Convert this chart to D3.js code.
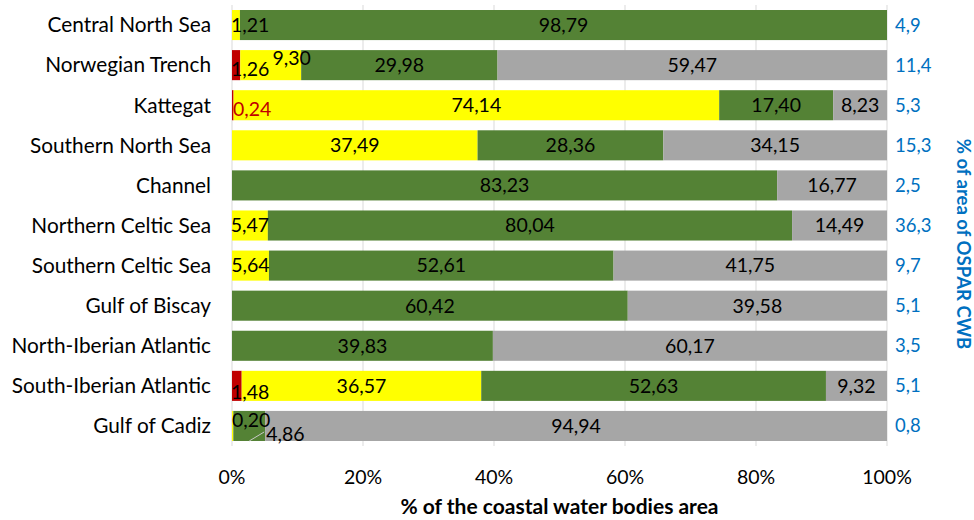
<!DOCTYPE html>
<html><head><meta charset="utf-8">
<script src="https://cdn.jsdelivr.net/npm/d3@7"></script>
<style>
body{margin:0;background:#fff;}
svg text{font-family:Lato,"Open Sans",sans-serif;}
</style></head>
<body>
<svg id="chart" width="974" height="520"></svg>
<script>
const categories = ["Central North Sea","Norwegian Trench","Kattegat","Southern North Sea","Channel","Northern Celtic Sea","Southern Celtic Sea","Gulf of Biscay","North-Iberian Atlantic","South-Iberian Atlantic","Gulf of Cadiz"];
const red    = [0, 1.26, 0.24, 0, 0, 0, 0, 0, 0, 1.48, 0];
const yellow = [1.21, 9.30, 74.14, 37.49, 0, 5.47, 5.64, 0, 0, 36.57, 0.20];
const green  = [98.79, 29.98, 17.40, 28.36, 83.23, 80.04, 52.61, 60.42, 39.83, 52.63, 4.86];
const grey   = [0, 59.47, 8.23, 34.15, 16.77, 14.49, 41.75, 39.58, 60.17, 9.32, 94.94];
const osparShare = ["4,9","11,4","5,3","15,3","2,5","36,3","9,7","5,1","3,5","5,1","0,8"];
const xTicks = [0, 20, 40, 60, 80, 100];
const seriesKeys = ["red","yellow","green","grey"];
const colors = {red:"#c00000", yellow:"#ffff00", green:"#548235", grey:"#a6a6a6"};

const rows = categories.map((c,i)=>({cat:c, red:red[i], yellow:yellow[i], green:green[i], grey:grey[i]}));

const svg = d3.select("#chart");
const m = {l:232, r:887, t:5, b:446};
const x = d3.scaleLinear().domain([0,100]).range([m.l, m.r]);
const y = d3.scaleBand().domain(categories).range([m.t, m.b]).paddingInner(0.25).paddingOuter(0.125);

// gridlines
svg.append("g").selectAll("line").data(xTicks).join("line")
  .attr("x1", d=>x(d)).attr("x2", d=>x(d)).attr("y1", m.t).attr("y2", m.b)
  .attr("stroke", "#d9d9d9").attr("stroke-width", 1);

const stack = d3.stack().keys(seriesKeys)(rows);

const g = svg.append("g");
stack.forEach(s=>{
  g.append("g").selectAll("rect").data(s).join("rect")
    .attr("x", d=>x(d[0])).attr("width", d=>Math.max(0, x(d[1])-x(d[0])))
    .attr("y", d=>y(d.data.cat)).attr("height", y.bandwidth())
    .attr("fill", colors[s.key]);
});

const fmt = v => d3.format(".2f")(v).replace(".", ",");
// label nudges (Excel overlap resolution)
const nudges = {
  "Central North Sea|yellow": {anchor:"start", atStart:true, dx:-1, dy:0},
  "Norwegian Trench|red": {anchor:"start", atStart:true, dx:-1, dy:4},
  "Norwegian Trench|yellow": {dx:21, dy:-7},
  "Kattegat|red": {anchor:"start", atStart:true, dx:1, dy:4, color:"#c00000"},
  "South-Iberian Atlantic|red": {anchor:"start", atStart:true, dx:-1, dy:6},
  "Gulf of Cadiz|yellow": {anchor:"start", atStart:true, dx:0, dy:-6},
  "Gulf of Cadiz|green": {anchor:"start", atEnd:true, dx:1, dy:8}
};

// leader line for Gulf of Cadiz
const gc = "Gulf of Cadiz";
svg.append("line")
  .attr("x1", x(yellow[10] + green[10]/2)).attr("y1", y(gc)+y.bandwidth())
  .attr("x2", x(yellow[10] + green[10]) - 1).attr("y2", y(gc)+y.bandwidth()-9)
  .attr("stroke", "#c9c9c9").attr("stroke-width", 1);

const lbl = svg.append("g").attr("font-size", 19.5).attr("fill", "#000");
stack.forEach(s=>{
  s.forEach(d=>{
    const v = d.data[s.key];
    if (!v) return;
    const key = d.data.cat + "|" + s.key;
    const n = nudges[key] || {};
    let px = n.atStart ? x(d[0]) : n.atEnd ? x(d[1]) : (x(d[0]) + x(d[1]))/2;
    px += n.dx || 0;
    const py = y(d.data.cat) + y.bandwidth()/2 + (n.dy || 0);
    lbl.append("text").attr("x", px).attr("y", py)
      .attr("dy", "0.35em").attr("text-anchor", n.anchor || "middle")
      .attr("fill", n.color || "#000").text(fmt(v));
  });
});

// left category axis
svg.append("g").selectAll("text").data(categories).join("text")
  .attr("x", 211).attr("y", d=>y(d)+y.bandwidth()/2).attr("dy","0.35em")
  .attr("text-anchor","end").attr("font-size", 20.8).attr("fill","#000").text(d=>d);

// right labels
svg.append("g").selectAll("text").data(categories).join("text")
  .attr("x", 895).attr("y", d=>y(d)+y.bandwidth()/2).attr("dy","0.35em")
  .attr("text-anchor","start").attr("font-size", 18.5).attr("fill","#0070c0")
  .text((d,i)=>osparShare[i]);

// x axis tick labels
svg.append("g").selectAll("text").data(xTicks).join("text")
  .attr("x", d=>x(d)).attr("y", 477).attr("dy","0.35em")
  .attr("text-anchor","middle").attr("font-size", 19.5).attr("fill","#000").text(d=>d+"%");

// axis titles
svg.append("text").attr("x", (m.l+m.r)/2).attr("y", 507).attr("dy","0.35em")
  .attr("text-anchor","middle").attr("font-size", 21).attr("font-weight","bold").attr("fill","#000")
  .text("% of the coastal water bodies area");

svg.append("text").attr("transform", "translate(963,244) rotate(90)").attr("dy","0.35em")
  .attr("text-anchor","middle").attr("font-size", 18.5).attr("font-weight","bold").attr("fill","#0070c0")
  .text("% of area of  OSPAR CWB");
</script>
</body></html>
